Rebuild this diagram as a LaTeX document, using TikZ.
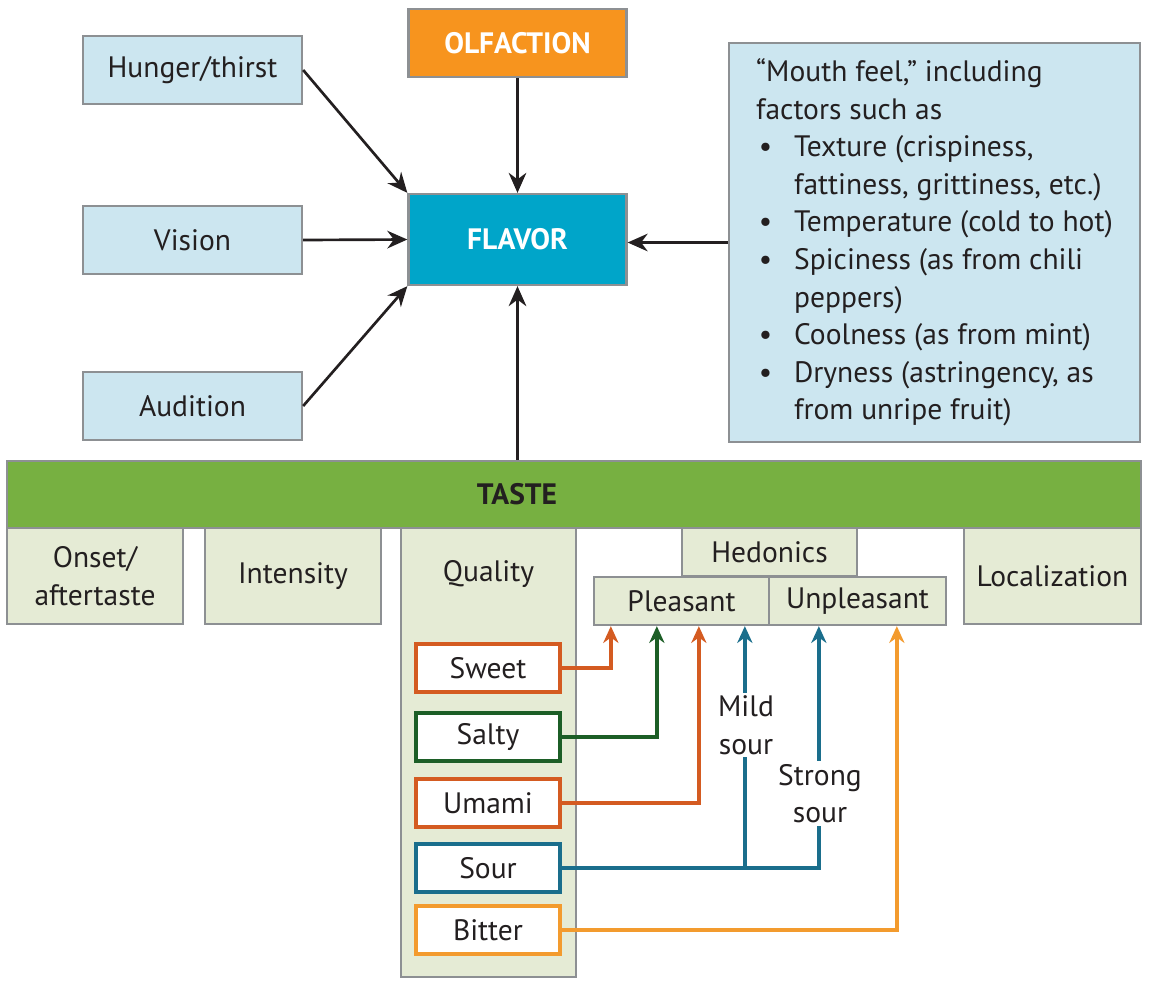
\documentclass[tikz,border=0pt]{standalone}
\usepackage{fontspec}
\setmainfont{PT Sans}
\usetikzlibrary{
  arrows.meta,
  calc,
  positioning
}
\definecolor{fbText}{HTML}{231F20}
\definecolor{fbGray}{HTML}{8D9093}
\definecolor{fbSense}{HTML}{CCE6F0}
\definecolor{fbTaste}{HTML}{E5EBD5}
\definecolor{fbGreen}{HTML}{77B041}
\definecolor{fbOrange}{HTML}{F7941E}
\definecolor{fbBlue}{HTML}{00A5C9}
\definecolor{sweetC}{HTML}{D45B21}
\definecolor{saltyC}{HTML}{1C5E26}
\definecolor{sourC}{HTML}{1A6E8C}
\definecolor{bitterC}{HTML}{F39B2E}
\newcommand\fbfont{\fontsize{21}{26.7}\selectfont}
\tikzset{
  fbbox/.style={
    draw=fbGray, line width=1.6pt, minimum width=5.475cm, minimum height=1.7cm,
    inner sep=0pt, font=\fbfont, text=fbText, align=center
  },
  sensebox/.style={fbbox, fill=fbSense},
  mainbox/.style={fbbox, minimum width=5.45cm, text=white, font=\fbfont\bfseries},
  dimbox/.style={fbbox, fill=fbTaste, minimum width=4.4cm, minimum height=2.4cm},
  hedbox/.style={fbbox, fill=fbTaste, minimum width=4.375cm, minimum height=1.2cm},
  qualbox/.style={
    draw, line width=2.2pt, fill=white, minimum width=3.6cm, minimum height=1.2cm,
    inner sep=0pt, font=\fbfont, text=fbText
  },
  tastebar/.style={fbbox, fill=fbGreen, minimum width=28.35cm, minimum height=1.675cm},
  link/.style={-{Stealth[length=5mm, width=4.4mm]}, line width=1.9pt, fbText},
  qlink/.style={-{Stealth[length=4.2mm, width=3.8mm]}, line width=2.8pt},
  soulbl/.style={fill=white, inner sep=2pt, align=center, font=\fbfont, text=fbText}
}
\begin{document}
\begin{tikzpicture}[x=0.025cm, y=-0.025cm]
  \useasboundingbox (0,0) rectangle (1165,989);

  % what feeds into flavor
  \node[sensebox] (hunger) at (192.5,70) {Hunger/thirst};
  \node[sensebox] (vision) at (192.5,240) {Vision};
  \node[sensebox] (audition) at (192.5,406) {Audition};
  \node[mainbox, fill=fbOrange] (olf) at (517.5,43) {OLFACTION};
  \node[mainbox, fill=fbBlue, minimum height=2.275cm] (flavor) at (517.5,239.5) {FLAVOR};
  \node[sensebox, minimum width=10.275cm, minimum height=9.975cm, align=left] (mouth) at (934.5,242.5)
    {“Mouth feel,” including\\
     factors such as\\
     \makebox[0.95cm][l]{\hspace{2pt}\textbullet}Texture (crispiness,\\
     \hspace*{0.95cm}fattiness, grittiness, etc.)\\
     \makebox[0.95cm][l]{\hspace{2pt}\textbullet}Temperature (cold to hot)\\
     \makebox[0.95cm][l]{\hspace{2pt}\textbullet}Spiciness (as from chili\\
     \hspace*{0.95cm}peppers)\\
     \makebox[0.95cm][l]{\hspace{2pt}\textbullet}Coolness (as from mint)\\
     \makebox[0.95cm][l]{\hspace{2pt}\textbullet}Dryness (astringency, as\\
     \hspace*{0.95cm}from unripe fruit)};

  % taste and its dimensions
  \node[dimbox] (onset) at (95,576) {Onset/\\aftertaste};
  \node[dimbox] (intensity) at (293,576) {Intensity};
  \node[dimbox, minimum width=4.375cm, minimum height=11.225cm,
    label={[anchor=north, yshift=-0.72cm, font=\fbfont, text=fbText]north:Quality}] (quality) at (488.5,752.5) {};
  \node[hedbox] (hedonics) at (769.5,552) {Hedonics};
  \node[hedbox] (pleasant) at (681.5,601) {Pleasant};
  \node[hedbox, minimum width=4.425cm] (unpleasant) at (857.5,601) {Unpleasant};
  \node[dimbox, minimum width=4.425cm] (local) at (1052.5,576) {Localization};
  \node[tastebar] (taste) at (574,494.5) {};
  \node[font=\fbfont\bfseries, text=fbText] (tastelbl) at (517,494.5) {TASTE};

  % qualities
  \node[qualbox, draw=sweetC] (sweet) at (488,668) {Sweet};
  \node[qualbox, draw=saltyC] (salty) at (488,737) {Salty};
  \node[qualbox, draw=sweetC] (umami) at (488,803) {Umami};
  \node[qualbox, draw=sourC] (sour) at (488,868) {Sour};
  \node[qualbox, draw=bitterC] (bitter) at (488,930) {Bitter};

  \draw[link] (hunger.east) -- (flavor.north west);
  \draw[link] (vision.east) -- (flavor.west);
  \draw[link] (audition.east) -- (flavor.south west);
  \draw[link] (olf.south) -- (flavor.north);
  \draw[link] (mouth.west) -- (mouth.west -| flavor.east);
  \draw[link] (taste.north -| flavor) -- (flavor.south);

  \coordinate (sweetx) at ($(pleasant.south west)+(18,0)$);
  \coordinate (saltyx) at ($(pleasant.south west)+(64,0)$);
  \coordinate (umamix) at ($(pleasant.south west)+(106,0)$);
  \coordinate (mildx) at ($(pleasant.south west)+(152,0)$);
  \coordinate (strongx) at ($(unpleasant.south west)+(51,0)$);
  \coordinate (bitterx) at ($(unpleasant.south west)+(129,0)$);

  \draw[qlink, sweetC] (sweet.east) -| (sweetx);
  \draw[qlink, saltyC] (salty.east) -| (saltyx);
  \draw[qlink, sweetC] (umami.east) -| (umamix);
  \draw[qlink, sourC] (sour.east) -| (strongx);
  \draw[qlink, sourC] (mildx |- sour.east) -- (mildx);
  \draw[qlink, bitterC] (bitter.east) -| (bitterx);

  \node[soulbl] (mildlbl) at (746,725) {Mild\\sour};
  \node[soulbl] (stronglbl) at (820,793.5) {Strong\\sour};
\end{tikzpicture}
\end{document}
